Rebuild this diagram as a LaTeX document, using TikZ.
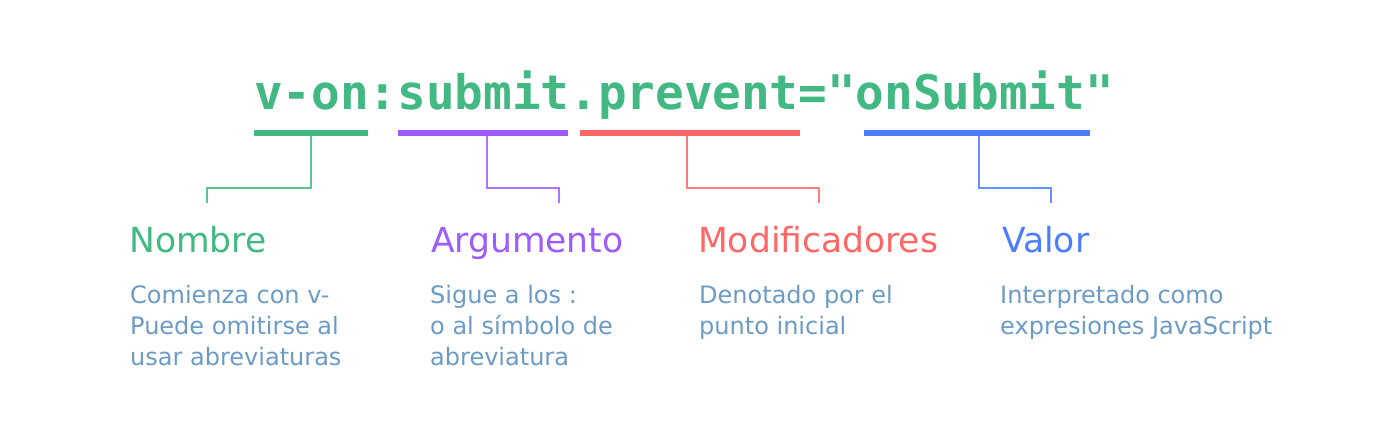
\documentclass[tikz,border=0pt]{standalone}
\usepackage{fontspec}
\setmainfont{DejaVu Sans}
\newfontfamily\codefont{DejaVu Sans Mono}
\definecolor{vgreen}{HTML}{42B883}
\definecolor{vpurple}{HTML}{9C5CFF}
\definecolor{vred}{HTML}{FF6666}
\definecolor{vblue}{HTML}{4D7DFF}
\definecolor{vdesc}{HTML}{6C9BC6}
\tikzset{
  bar/.style={line width=5.5pt},
  link/.style={line width=1.6pt, opacity=0.85},
  title/.style={anchor=base west, inner sep=0pt, font=\fontsize{34.5}{40}\selectfont},
  desc/.style={anchor=base west, inner sep=0pt, text=vdesc, font=\fontsize{24}{30}\selectfont},
}
\begin{document}
\begin{tikzpicture}[x=1pt,y=-1pt]
\useasboundingbox (0,0) rectangle (1376,440);
\fill[white] (0,0) rectangle (1376,440);
\node[anchor=base west, inner sep=0pt, text=vgreen, font=\codefont\bfseries\fontsize{47.6}{56}\selectfont] (code) at (254,109) {v-on:submit.prevent="onSubmit"};
% bars
\coordinate (g1) at (254,133); \coordinate (g2) at (368,133);
\coordinate (p1) at (398,133); \coordinate (p2) at (568,133);
\coordinate (r1) at (580,133); \coordinate (r2) at (800,133);
\coordinate (b1) at (864,133); \coordinate (b2) at (1090,133);
\draw[bar,vgreen] (g1) -- (g2);
\draw[bar,vpurple] (p1) -- (p2);
\draw[bar,vred] (r1) -- (r2);
\draw[bar,vblue] (b1) -- (b2);
% connectors
\coordinate (gs) at (311,135); \coordinate (ge) at (207,203);
\coordinate (ps) at (487,135); \coordinate (pe) at (559,203);
\coordinate (rs) at (687,135); \coordinate (re) at (819,203);
\coordinate (bs) at (979,135); \coordinate (be) at (1051,203);
\draw[link,vgreen] (gs) |- (ge |- 0,188) -- (ge);
\draw[link,vpurple] (ps) |- (pe |- 0,188) -- (pe);
\draw[link,vred] (rs) |- (re |- 0,188) -- (re);
\draw[link,vblue] (bs) |- (be |- 0,188) -- (be);
% titles
\node[title,text=vgreen] (t1) at (129,252) {Nombre};
\node[title,text=vpurple] (t2) at (431,252) {Argumento};
\node[title,text=vred] (t3) at (698,252) {Modificadores};
\node[title,text=vblue] (t4) at (1002,252) {Valor};
% descriptions
\node[desc] (d1a) at (130,303) {Comienza con v-};
\node[desc] (d1b) at (130,334) {Puede omitirse al};
\node[desc] (d1c) at (130,365) {usar abreviaturas};
\node[desc] (d2a) at (430,303) {Sigue a los :};
\node[desc] (d2b) at (430,334) {o al símbolo de};
\node[desc] (d2c) at (430,365) {abreviatura};
\node[desc] (d3a) at (699,303) {Denotado por el};
\node[desc] (d3b) at (699,334) {punto inicial};
\node[desc] (d4a) at (1000,303) {Interpretado como};
\node[desc] (d4b) at (1000,334) {expresiones JavaScript};
\end{tikzpicture}
\end{document}
